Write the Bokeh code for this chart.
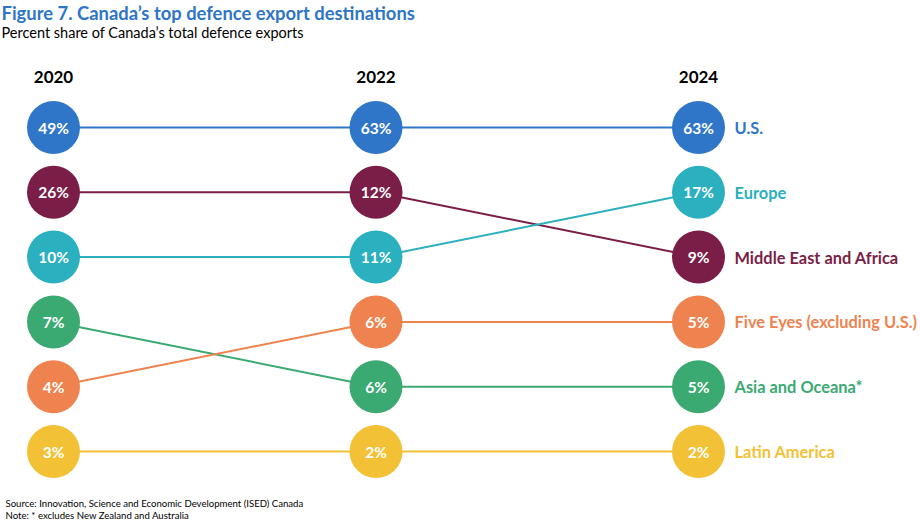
from bokeh.plotting import figure
from bokeh.models import Range1d, Label, ColumnDataSource
from bokeh.core.properties import value
from bokeh.embed import file_html
from bokeh.resources import INLINE

years = [2020, 2022, 2024]
year_labels = ["2020", "2022", "2024"]
categories = ["U.S.", "Middle East and Africa", "Europe", "Asia and Oceana*",
              "Five Eyes (excluding U.S.)", "Latin America"]
shares = [
    [49, 63, 63],
    [26, 12, 9],
    [10, 11, 17],
    [7, 6, 5],
    [4, 6, 5],
    [3, 2, 2],
]
ranks = [
    [1, 1, 1],
    [2, 2, 3],
    [3, 3, 2],
    [4, 5, 5],
    [5, 4, 4],
    [6, 6, 6],
]
colors = ["#2F76C9", "#7A1E47", "#2AB0BF", "#3AAA72", "#EE834F", "#F2C136"]

title_text = "Figure 7. Canada\u2019s top defence export destinations"
subtitle_text = "Percent share of Canada\u2019s total defence exports"
source_text = "Source: Innovation, Science and Economic Development (ISED) Canada"
note_text = "Note: * excludes New Zealand and Australia"

W, H = 920, 522
FONT = "Lato"

# scale: year -> pixel x; rank -> pixel y
x0_px, x1_px = 53.0, 698.0
ppy = (x1_px - x0_px) / (years[-1] - years[0])
xs = years[0] - x0_px / ppy
xe = years[0] + (W - x0_px) / ppy
y1_px, y6_px = 127.0, 451.0
ppr = (y6_px - y1_px) / 5.0
ys = 1 + (H - y1_px) / ppr   # bottom
ye = 1 - y1_px / ppr         # top


def dx(px):
    return years[0] + (px - x0_px) / ppy


def dy(py):
    return 1 + (py - y1_px) / ppr


p = figure(width=W, height=H, output_backend="svg", toolbar_location=None,
           x_range=Range1d(xs, xe), y_range=Range1d(ys, ye),
           min_border=0, border_fill_color="white", background_fill_color="white")
p.axis.visible = False
p.grid.visible = False
p.outline_line_color = None

for cat, sh, rk, col in zip(categories, shares, ranks, colors):
    p.line(years, rk, line_color=col, line_width=2)

for cat, sh, rk, col in zip(categories, shares, ranks, colors):
    src = ColumnDataSource(dict(x=years, y=rk, t=[f"{v}%" for v in sh]))
    p.scatter("x", "y", source=src, marker="circle", size=53, fill_color=col,
              line_color=None)
    p.text("x", "y", text="t", source=src, text_color="white",
           text_font=value(FONT), text_font_style="bold", text_font_size="15.5px",
           text_align="center", text_baseline="middle")
    p.text([years[-1]], [rk[-1]], text=[cat], x_offset=36, text_color=col,
           text_font=value(FONT), text_font_style="bold", text_font_size="16.4px",
           text_align="left", text_baseline="middle")

p.text(years, [dy(76)] * 3, text=year_labels, text_color="black",
       text_font=value(FONT), text_font_style="bold", text_font_size="17px",
       text_align="center", text_baseline="middle")

p.add_layout(Label(x=dx(1), y=dy(12), text=title_text, text_color="#2E75C6",
                   text_font=FONT, text_font_style="bold", text_font_size="18.4px",
                   text_align="left", text_baseline="middle"))
p.add_layout(Label(x=dx(1), y=dy(32), text=subtitle_text, text_color="black",
                   text_font=FONT, text_font_size="14.5px",
                   text_align="left", text_baseline="middle"))
p.add_layout(Label(x=dx(5), y=dy(503), text=source_text, text_color="black",
                   text_font=FONT, text_font_size="9.6px",
                   text_align="left", text_baseline="middle"))
p.add_layout(Label(x=dx(5), y=dy(515), text=note_text, text_color="black",
                   text_font=FONT, text_font_size="9.6px",
                   text_align="left", text_baseline="middle"))

open("out.html", "w").write(file_html(p, INLINE))
